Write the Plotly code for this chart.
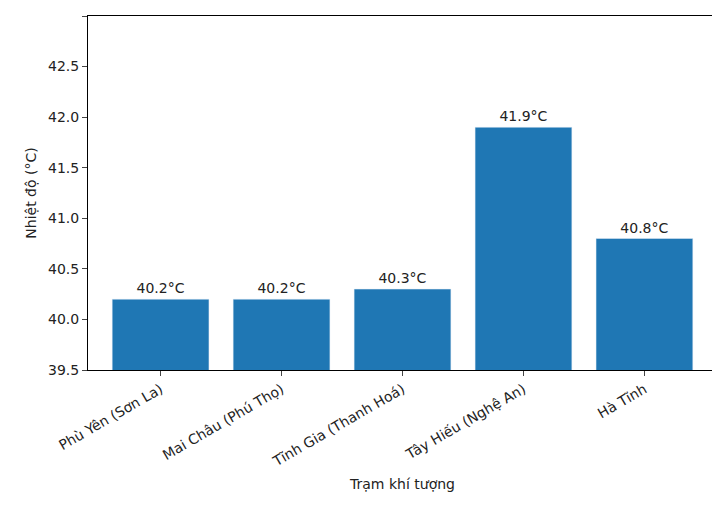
import plotly.graph_objects as go

stations = ["Phù Yên (Sơn La)", "Mai Châu (Phú Thọ)", "Tĩnh Gia (Thanh Hoá)", "Tây Hiếu (Nghệ An)", "Hà Tĩnh"]
temps = [40.2, 40.2, 40.3, 41.9, 40.8]
labels = [f"{t:.1f}°C" for t in temps]

fig = go.Figure(go.Bar(x=stations, y=temps, text=labels, textposition="outside",
                       marker_color="#1f77b4", width=0.8, cliponaxis=False,
                       textfont=dict(size=14, color="#222")))
fig.update_layout(
    width=720, height=506, plot_bgcolor="white", paper_bgcolor="white",
    margin=dict(l=80, r=11, t=8, b=144), showlegend=False,
    font=dict(family="DejaVu Sans", size=14, color="#222"),
)
fig.update_xaxes(title=dict(text="Trạm khí tượng", font=dict(size=14), standoff=10), tickangle=-30,
                 showline=True, linecolor="black", mirror=True, ticks="outside",
                 range=[-0.6, 4.6], automargin=False)
fig.update_yaxes(title=dict(text="Nhiệt độ (°C)", font=dict(size=14), standoff=8), range=[39.5, 43.0], dtick=0.5,
                 tickformat=".1f", showline=True, linecolor="black", mirror=True,
                 ticks="outside", showgrid=False, zeroline=False, automargin=False)
fig.write_html("out.html")
